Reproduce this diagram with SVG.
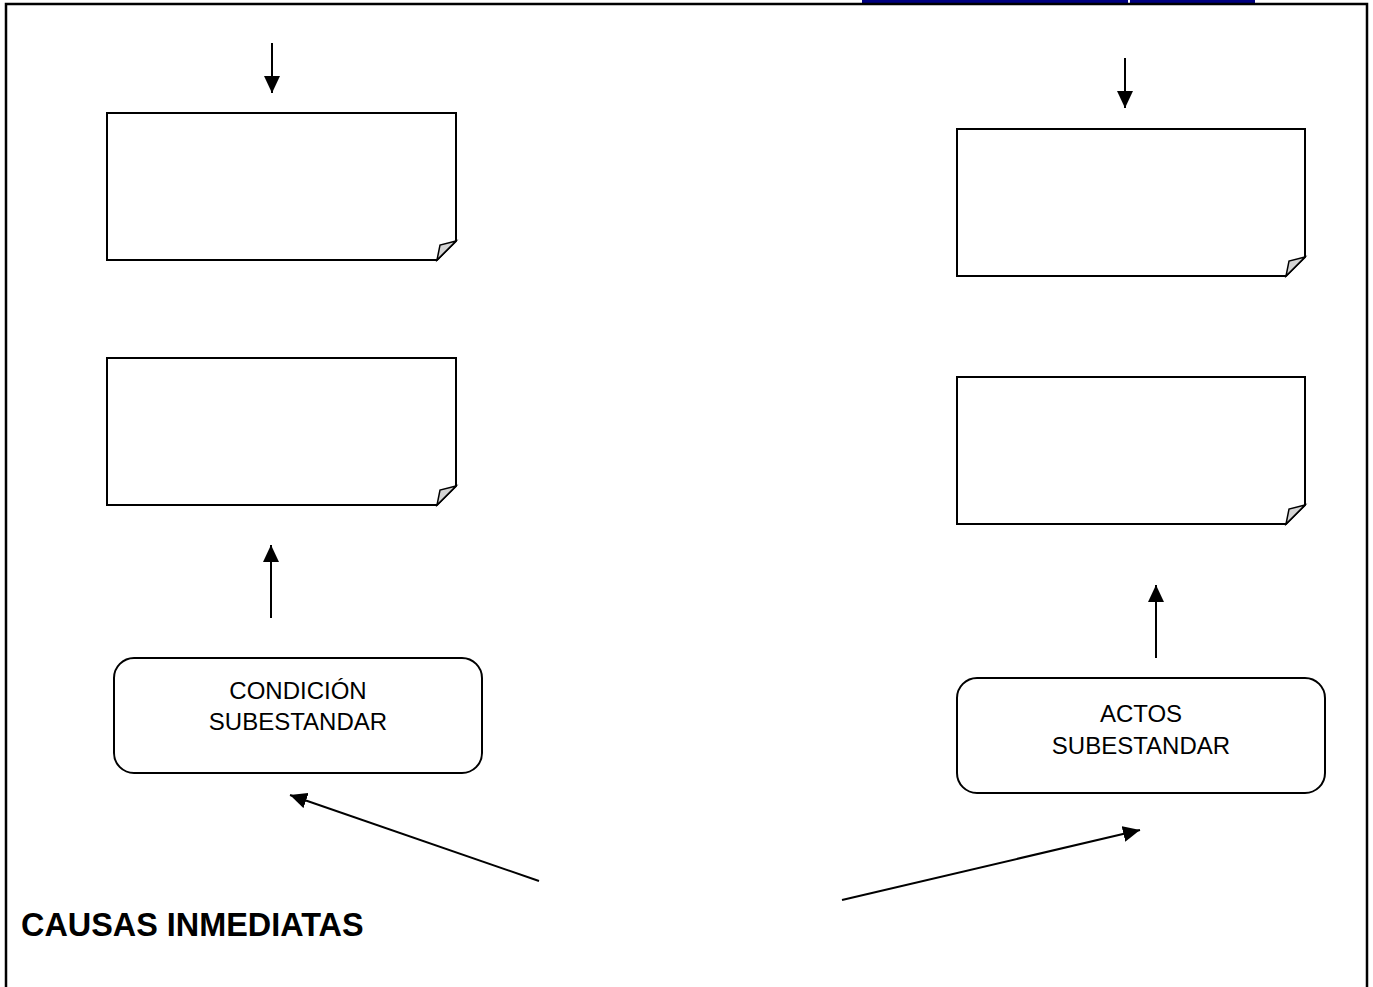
<svg xmlns="http://www.w3.org/2000/svg" width="1373" height="987" viewBox="0 0 1373 987">
<style>
.note{fill:#fff;stroke:#000;stroke-width:2}
.fold{fill:#d4d4d4;stroke:#000;stroke-width:1.5;stroke-linejoin:miter}
.box{fill:#fff;stroke:#000;stroke-width:2}
.lbl{font-family:"Liberation Sans",Arial,sans-serif;font-size:24px;fill:#000;text-anchor:middle}
.title{font-family:"Liberation Sans",Arial,sans-serif;font-size:32.4px;font-weight:bold;fill:#000}
.conn{stroke:#000;stroke-width:2;fill:none;marker-end:url(#ah)}
</style>
<defs>
<marker id="ah" markerWidth="17" markerHeight="16" refX="17" refY="8" orient="auto" markerUnits="userSpaceOnUse">
<path d="M0,0 L17,8 L0,16 Z" fill="#000"/>
</marker>
</defs>
<rect x="0" y="0" width="1373" height="987" fill="#fff"/>
<rect x="862" y="0" width="393" height="3.5" fill="#000080"/>
<rect x="1128" y="0" width="2" height="3.5" fill="#ffffff"/>
<path d="M6,987 V4 H1367 V987" fill="none" stroke="#000" stroke-width="2.5"/>

<g id="note-left-top">
<path class="note" d="M107,113 H456 V241 L437,260 H107 Z"/>
<path class="fold" d="M456,241 L440,245 L437,260 Z"/>
</g>
<g id="note-left-bottom">
<path class="note" d="M107,358 H456 V486 L437,505 H107 Z"/>
<path class="fold" d="M456,486 L440,490 L437,505 Z"/>
</g>
<g id="note-right-top">
<path class="note" d="M957,129 H1305 V257 L1286,276 H957 Z"/>
<path class="fold" d="M1305,257 L1289,261 L1286,276 Z"/>
</g>
<g id="note-right-bottom">
<path class="note" d="M957,377 H1305 V505 L1286,524 H957 Z"/>
<path class="fold" d="M1305,505 L1289,509 L1286,524 Z"/>
</g>

<g id="condicion">
<rect class="box" x="114" y="658" width="368" height="115" rx="20" ry="20"/>
<text class="lbl" x="298" y="699">CONDICIÓN</text>
<text class="lbl" x="298" y="730">SUBESTANDAR</text>
</g>
<g id="actos">
<rect class="box" x="957" y="678" width="368" height="115" rx="20" ry="20"/>
<text class="lbl" x="1141" y="722">ACTOS</text>
<text class="lbl" x="1141" y="754">SUBESTANDAR</text>
</g>
<g id="causas">
<text class="title" x="21" y="936">CAUSAS INMEDIATAS</text>
</g>

<g id="connectors">
<line class="conn" x1="272" y1="43" x2="272" y2="93"/>
<line class="conn" x1="1125" y1="58" x2="1125" y2="108"/>
<line class="conn" x1="271" y1="618" x2="271" y2="545"/>
<line class="conn" x1="1156" y1="658" x2="1156" y2="585"/>
<line class="conn" x1="539" y1="881" x2="290" y2="795"/>
<line class="conn" x1="842" y1="900" x2="1140" y2="830"/>
</g>
</svg>
